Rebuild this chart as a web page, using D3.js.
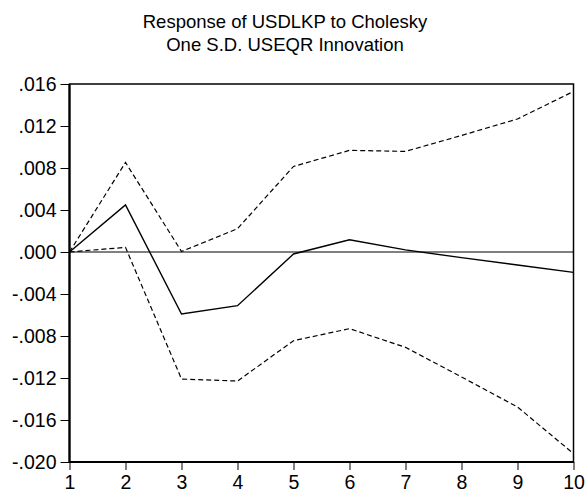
<!DOCTYPE html>
<html>
<head>
<meta charset="utf-8">
<script src="https://cdn.jsdelivr.net/npm/d3@7"></script>
<style>
  body { margin: 0; background: #fff; }
  svg text { font-family: "Liberation Sans", Arial, sans-serif; fill: #000; }
</style>
</head>
<body>
<svg id="chart" width="586" height="493"></svg>
<script>
var periods = [1, 2, 3, 4, 5, 6, 7, 8, 9, 10];
var response = [0, 0.00448, -0.0059, -0.00511, -0.00019, 0.00117, 0.0002, -0.00054, -0.00124, -0.00194];
var upperBand = [0, 0.00853, 0.00005, 0.00222, 0.00815, 0.00968, 0.00958, 0.0111, 0.01267, 0.01529];
var lowerBand = [0, 0.00044, -0.0121, -0.01229, -0.00845, -0.0073, -0.00908, -0.0119, -0.01476, -0.0192];
var yTicks = [0.016, 0.012, 0.008, 0.004, 0, -0.004, -0.008, -0.012, -0.016, -0.020];
var titleLines = ["Response of USDLKP to Cholesky", "One S.D. USEQR Innovation"];

var svg = d3.select("#chart");
var plotL = 69.5, plotR = 573.5, plotT = 84, plotB = 462;

var x = d3.scaleLinear().domain([1, 10]).range([plotL, plotR]);
var y = d3.scaleLinear().domain([-0.020, 0.016]).range([plotB, plotT]);

// title
svg.selectAll(".title").data(titleLines).enter().append("text")
    .attr("class", "title")
    .attr("x", 285)
    .attr("y", function (d, i) { return 28 + i * 23; })
    .attr("text-anchor", "middle")
    .style("font-size", "18.5px")
    .text(function (d) { return d; });

// axes
var fmt = function (d) {
    var s = d3.format(".3f")(Math.abs(d)).replace(/^0/, "");
    return (d < 0 ? "-" : "") + s;
};

var yAxis = svg.append("g")
    .attr("transform", "translate(" + plotL + ",0)")
    .call(d3.axisLeft(y).tickValues(yTicks).tickFormat(fmt).tickSize(9).tickPadding(4));
var xAxis = svg.append("g")
    .attr("transform", "translate(0," + plotB + ")")
    .call(d3.axisBottom(x).tickValues(periods).tickFormat(d3.format("d")).tickSize(8).tickPadding(5));

[yAxis, xAxis].forEach(function (a) {
    a.select(".domain").remove();
    a.selectAll(".tick line").attr("stroke", "#000").attr("stroke-width", 1);
    a.selectAll(".tick text").style("font-size", "19.5px").style("font-family", "'Liberation Sans', Arial, sans-serif");
});

// zero line
svg.append("line")
    .attr("x1", plotL).attr("x2", plotR)
    .attr("y1", y(0)).attr("y2", y(0))
    .attr("stroke", "#000").attr("stroke-width", 1);

var line = d3.line()
    .x(function (d, i) { return x(periods[i]); })
    .y(function (d) { return y(d); });

svg.append("path").datum(upperBand)
    .attr("d", line).attr("fill", "none")
    .attr("stroke", "#000").attr("stroke-width", 1.2)
    .attr("stroke-dasharray", "5,3");
svg.append("path").datum(lowerBand)
    .attr("d", line).attr("fill", "none")
    .attr("stroke", "#000").attr("stroke-width", 1.2)
    .attr("stroke-dasharray", "5,3");
svg.append("path").datum(response)
    .attr("d", line).attr("fill", "none")
    .attr("stroke", "#000").attr("stroke-width", 1.4);

// frame
svg.append("rect")
    .attr("x", plotL).attr("y", plotT)
    .attr("width", plotR - plotL).attr("height", plotB - plotT)
    .attr("fill", "none").attr("stroke", "#000").attr("stroke-width", 1.5);
svg.append("line")
    .attr("x1", plotL).attr("x2", plotL).attr("y1", plotT).attr("y2", plotB)
    .attr("stroke", "#000").attr("stroke-width", 2.2);
svg.append("line")
    .attr("x1", plotL).attr("x2", plotR).attr("y1", plotB).attr("y2", plotB)
    .attr("stroke", "#000").attr("stroke-width", 2.2);
</script>
</body>
</html>
